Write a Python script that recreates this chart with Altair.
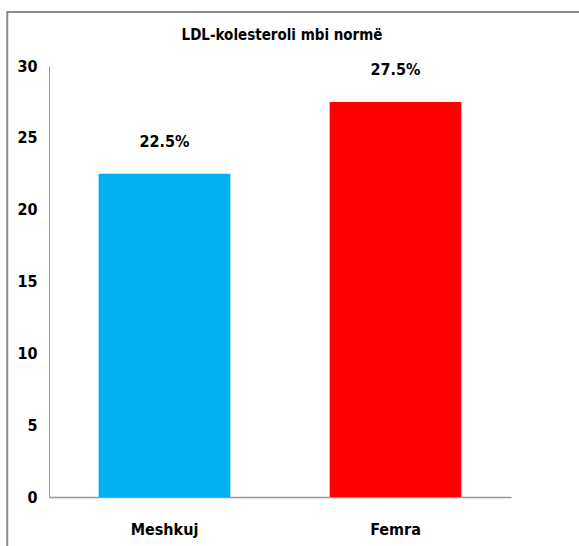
import altair as alt
import pandas as pd

categories = ["Meshkuj", "Femra"]
values = [22.5, 27.5]
labels = ["22.5%", "27.5%"]
colors = ["#00B0F0", "#FF0000"]
title_text = "LDL-kolesteroli mbi normë"

df = pd.DataFrame({"cat": categories, "val": values, "lab": labels, "col": colors})

FONT = "DejaVu Sans Condensed, Liberation Sans Narrow, sans-serif"

x = alt.X("cat:N", sort=categories, title=None,
          scale=alt.Scale(paddingInner=0.43, paddingOuter=0.215),
          axis=alt.Axis(labelAngle=0, ticks=False, labelPadding=24, labelFontSize=16,
                        labelFont=FONT, labelFontWeight="bold", labelColor="#000000",
                        domainColor="#999999", domainWidth=1.5))
y = alt.Y("val:Q", title=None,
          scale=alt.Scale(domain=[0, 30], nice=False),
          axis=alt.Axis(values=[0, 5, 10, 15, 20, 25, 30], ticks=False, grid=False,
                        labelPadding=12, labelFontSize=16, labelFont=FONT,
                        labelFontWeight="bold", labelColor="#000000",
                        domainColor="#999999", domainWidth=1))

base = alt.Chart(df)
bars = base.mark_bar().encode(x=x, y=y, color=alt.Color("col:N", scale=None))
text = base.mark_text(dy=-32, fontSize=16, font=FONT, fontWeight="bold", color="#000000").encode(
    x=alt.X("cat:N", sort=categories), y="val:Q", text="lab:N")

title = alt.Chart(pd.DataFrame({"t": [title_text]})).mark_text(
    fontSize=15, font=FONT, fontWeight="bold", color="#000000").encode(
    x=alt.value(233), y=alt.value(-31), text="t:N")

frame = pd.DataFrame({"k": ["frame"]})
border = alt.Chart(frame).mark_rect(
    fill=None, fillOpacity=0, stroke="#8c8c8c", strokeWidth=2).encode(
    x=alt.value(-41.75), x2=alt.value(560), y=alt.value(-54), y2=alt.value(520))

chart = alt.layer(bars, text, title, border).properties(
    width=462, height=431,
    autosize=alt.AutoSizeParams(type="none"),
    padding={"left": 49, "top": 66, "right": 68, "bottom": 49},
).configure(background="#ffffff").configure_view(stroke=None)

chart.save("out.html", embed_options={"renderer": "svg", "actions": False})
